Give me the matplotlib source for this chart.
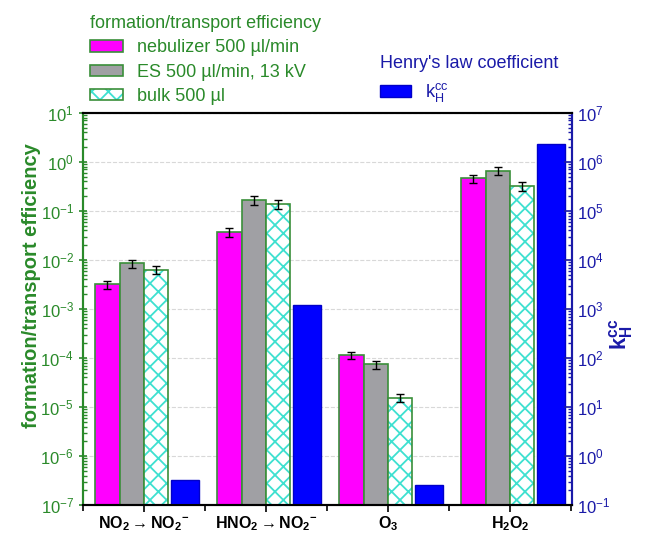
import numpy as np
import matplotlib
matplotlib.use('Agg')
import matplotlib.pyplot as plt
from matplotlib.patches import Patch
from matplotlib.ticker import LogLocator, NullFormatter

plt.rcParams['font.family'] = ['Liberation Sans', 'DejaVu Sans']
plt.rcParams['mathtext.fontset'] = 'custom'
plt.rcParams['mathtext.rm'] = 'Liberation Sans'
plt.rcParams['mathtext.it'] = 'Liberation Sans:italic'
plt.rcParams['mathtext.bf'] = 'Liberation Sans:bold'
plt.rcParams['axes.unicode_minus'] = False
plt.rcParams['hatch.linewidth'] = 1.3

# data
categories = [r'$\mathbf{NO_2 \rightarrow NO_2{}^{-}}$', r'$\mathbf{HNO_2 \rightarrow NO_2{}^{-}}$',
              r'$\mathbf{O_3}$', r'$\mathbf{H_2O_2}$']
nebulizer = [3.2e-3, 0.037, 1.15e-4, 0.46]
nebulizer_err = [0.6e-3, 0.007, 0.2e-4, 0.09]
es = [8.5e-3, 0.17, 7.4e-5, 0.66]
es_err = [1.6e-3, 0.035, 1.4e-5, 0.13]
bulk = [6.3e-3, 0.138, 1.55e-5, 0.32]
bulk_err = [1.2e-3, 0.028, 0.3e-5, 0.065]
kh = [0.32, 1190, 0.26, 2.3e6]

green = '#2a8a2a'
edge_green = '#3a8f3a'
blue = '#1a1aa8'
magenta = '#ff00ff'
grey = '#a0a0a4'
turq = '#3ee0d0'

fig = plt.figure(figsize=(6.48, 5.35), dpi=100)
ax = fig.add_axes([0.128, 0.056, 0.755, 0.733])
ax2 = ax.twinx()

x = np.arange(len(categories))
w = 0.2
ekw = dict(ecolor='black', elinewidth=1.0, capsize=3, capthick=1.0)

ax.bar(x - 0.3, nebulizer, w, color=magenta, edgecolor=edge_green, lw=1.2,
       yerr=nebulizer_err, error_kw=ekw, zorder=2)
ax.bar(x - 0.1, es, w, color=grey, edgecolor=edge_green, lw=1.2,
       yerr=es_err, error_kw=ekw, zorder=2)
ax.bar(x + 0.1, bulk, w, color='white', edgecolor=turq, hatch='xx', lw=0, zorder=2)
ax.bar(x + 0.1, bulk, w, fill=False, edgecolor=edge_green, lw=1.2,
       yerr=bulk_err, error_kw=ekw, zorder=3)
ax2.bar(x + 0.335, kh, 0.226, color='#0000ff', edgecolor='#0000c8', lw=1.0)

ax.set_yscale('log')
ax2.set_yscale('log')
ax.set_ylim(1e-7, 10)
ax2.set_ylim(0.1, 1e7)
ax.set_xlim(-0.5, 3.51)

ax.set_yticks([10.0 ** k for k in range(-7, 2)])
ax2.set_yticks([10.0 ** k for k in range(-1, 8)])
for a in (ax, ax2):
    a.yaxis.set_minor_locator(LogLocator(base=10, subs=np.arange(2, 10), numticks=20))
    a.yaxis.set_minor_formatter(NullFormatter())

ax.set_xticks(x)
ax.set_xticklabels(categories, fontsize=11.5)
ax.set_xticks(np.arange(-0.5, 4, 1.0), minor=True)
ax.tick_params(axis='x', which='major', length=5, width=1.2, direction='out', pad=1.5)
ax.tick_params(axis='x', which='minor', length=4, width=1.2, direction='out')

ax.tick_params(axis='y', which='major', colors=green, labelsize=12, length=6,
               width=1.2, direction='inout')
ax.tick_params(axis='y', which='minor', colors=green, length=3, width=1, direction='in')
ax2.tick_params(axis='y', which='major', colors=blue, labelsize=12, length=6,
                width=1.2, direction='in')
ax2.tick_params(axis='y', which='minor', colors=blue, length=3, width=1, direction='in')

for a in (ax, ax2):
    a.spines['left'].set_color(green)
    a.spines['right'].set_color(blue)
    a.spines['top'].set_color('black')
    a.spines['bottom'].set_color('black')
    for s in a.spines.values():
        s.set_linewidth(1.5)

ax.grid(axis='y', which='major', color='#d8d8d8', linestyle='--', linewidth=0.8)
ax.set_axisbelow(True)

ax.set_ylabel('formation/transport efficiency', color=green, fontsize=14.5,
              fontweight='bold')
ax.yaxis.set_label_coords(-0.085, 0.56)
ax2.set_ylabel(r'$\mathbf{k_H^{cc}}$', color=blue, fontsize=16)
ax2.yaxis.set_label_coords(1.072, 0.435)

# legends
h_neb = Patch(facecolor=magenta, edgecolor=edge_green, lw=1.2)
h_es = Patch(facecolor=grey, edgecolor=edge_green, lw=1.2)
h_bulk = (Patch(facecolor='white', edgecolor=turq, hatch='xx', lw=0),
          Patch(fill=False, edgecolor=edge_green, lw=1.2))
leg1 = fig.legend([h_neb, h_es, h_bulk],
                  ['nebulizer 500 µl/min', 'ES 500 µl/min, 13 kV', 'bulk 500 µl'],
                  title='formation/transport efficiency', loc='upper left',
                  bbox_to_anchor=(0.128, 0.985), frameon=False, fontsize=13,
                  title_fontsize=13, labelcolor=green, alignment='left',
                  handlelength=1.8, handleheight=0.6, labelspacing=0.4,
                  handletextpad=0.8, borderaxespad=0)
leg1.get_title().set_color(green)

h_kh = Patch(facecolor='#0000ff', edgecolor='#0000c8')
leg2 = fig.legend([h_kh], [r'k$_\mathrm{H}^\mathrm{cc}$'],
                  title="Henry's law coefficient", loc='upper left',
                  bbox_to_anchor=(0.575, 0.91), frameon=False, fontsize=13,
                  title_fontsize=13, labelcolor=blue, alignment='left',
                  handlelength=1.7, handleheight=0.6, handletextpad=0.8,
                  borderaxespad=0)
leg2.get_title().set_color(blue)

fig.savefig('out.png', dpi=100)
